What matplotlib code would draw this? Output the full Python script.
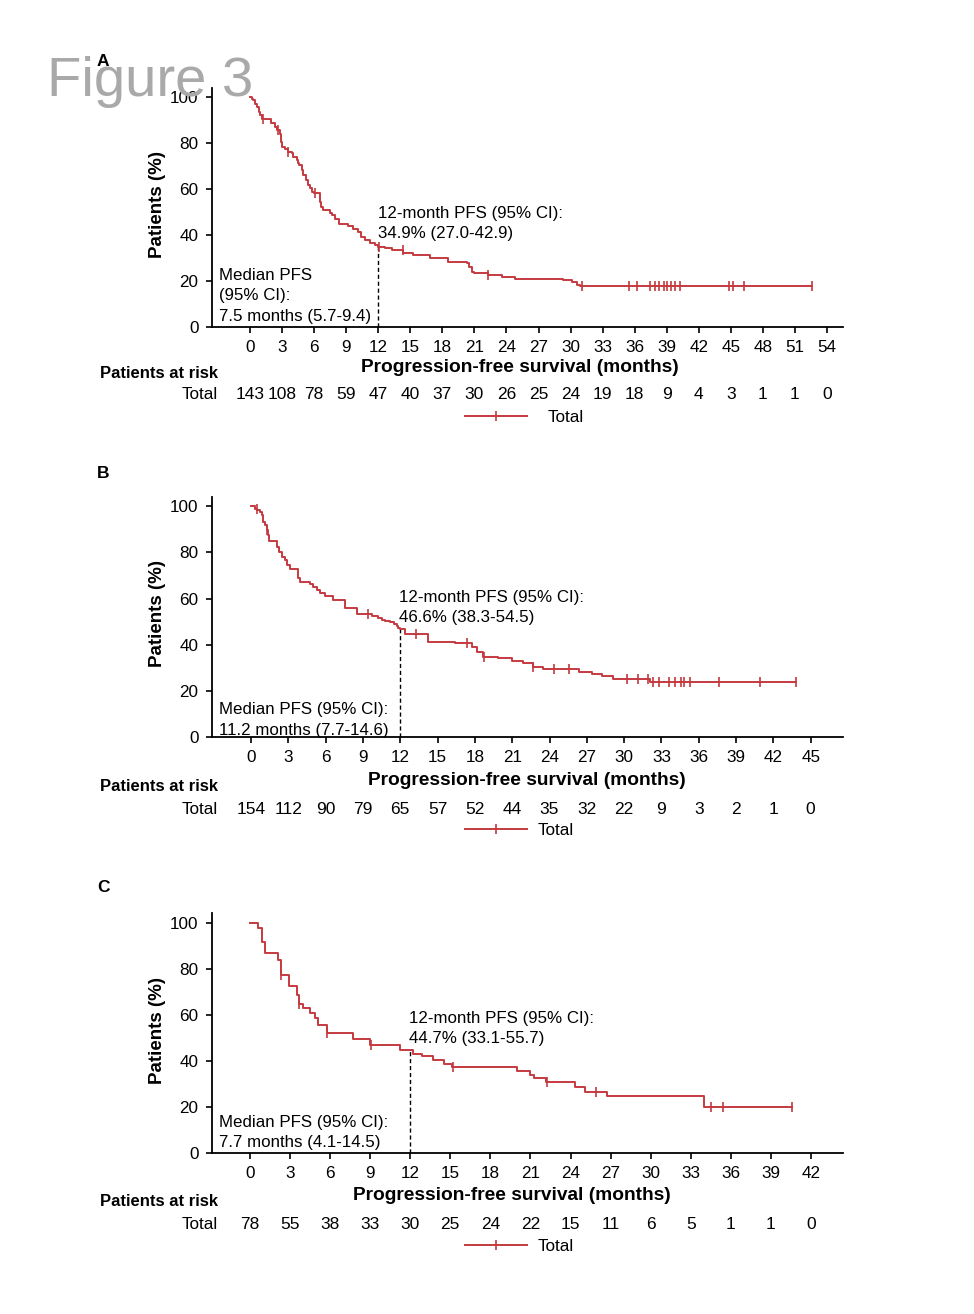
import numpy as np
import matplotlib
matplotlib.use("Agg")
import matplotlib.pyplot as plt
from matplotlib.lines import Line2D
import matplotlib.transforms as mtrans

plt.rcParams['font.family'] = ['Liberation Sans', 'DejaVu Sans']

# ---------------- data ----------------
# Panel A
a_times = [0, 0.15, 0.3, 0.5, 0.62, 0.8, 0.95, 1.09, 2.0, 2.3, 2.55, 2.8, 2.9, 2.95, 3.3, 3.6,
           3.9, 4.06, 4.37, 4.5, 4.62, 4.84, 5.0, 5.24, 5.46, 5.6, 5.77, 6.0, 6.58, 6.65, 6.86,
           7.5, 7.64, 7.96, 8.36, 9.2, 9.67, 10.14, 10.39, 10.76, 11.23, 11.7, 11.95, 12.64,
           13.26, 14.35, 15.29, 16.85, 18.56, 20.28, 20.5, 20.74, 20.96, 22.3, 23.55, 24.8,
           29.3, 30.1, 30.57, 30.9]
a_surv = [100, 99.3, 98.6, 97.2, 95.8, 93.7, 92.3, 90.3, 88.6, 87.1, 85.7, 84.2, 80.5, 78.4, 77.6, 76.2,
          75.5, 74.1, 72.6, 71.3, 70.4, 68.3, 66.1, 63.9, 61.7, 60.3, 58.8, 58.4, 54.5, 52.3, 50.9,
          49.4, 48.7, 47.2, 44.8, 43.9, 42.5, 41.4, 39.3, 37.8, 36.7, 35.7, 34.9, 34.2,
          33.5, 32.3, 31.3, 29.9, 28.4, 27.7, 26.2, 24.1, 23.4, 22.6, 21.6, 20.9,
          20.4, 19.4, 18.2, 17.8]
a_end = 52.6
a_censor = [1.2, 2.6, 3.6, 6.1, 12.1, 14.3, 22.3, 31.1, 35.5, 36.2, 37.4, 37.9, 38.3, 38.7,
            39.0, 39.4, 39.8, 40.2, 44.8, 45.2, 46.2, 52.6]
a_xticks = list(range(0, 55, 3))
a_risk = [143, 108, 78, 59, 47, 40, 37, 30, 26, 25, 24, 19, 18, 9, 4, 3, 1, 1, 0]
a_note12 = ["12-month PFS (95% CI):", "34.9% (27.0-42.9)"]
a_median = ["Median PFS", "(95% CI):", "7.5 months (5.7-9.4)"]

# Panel B
b_times = [0, 0.32, 0.51, 0.72, 0.86, 0.99, 1.13, 1.26, 1.39, 1.47, 2.12, 2.28, 2.47, 2.73, 2.92,
           3.14, 3.8, 3.94, 4.74, 5.0, 5.28, 5.55, 5.95, 6.62, 7.56, 8.5, 9.7, 10.23, 10.5,
           10.77, 11.2, 11.5, 11.7, 11.85, 11.95, 12.38, 14.25, 16.4, 17.74, 18.14, 18.67,
           19.88, 20.95, 21.89, 22.69, 23.5, 26.4, 27.4, 28.2, 29.1, 32.1]
b_surv = [100, 99.0, 98.3, 97.5, 96.1, 93.2, 91.8, 89.6, 87.4, 85.0, 82.4, 80.2, 78.1, 76.6, 74.5,
          73.0, 68.7, 67.2, 66.5, 65.1, 63.6, 62.2, 61.0, 59.3, 56.1, 53.2, 52.4, 51.4, 50.6,
          50.2, 49.9, 48.9, 48.1, 47.1, 46.6, 44.6, 41.3, 40.6, 39.1, 36.9, 34.8,
          34.1, 33.0, 31.9, 30.2, 29.3, 28.3, 27.2, 26.4, 25.2, 23.8]
b_end = 43.8
b_censor = [0.5, 1.3, 9.4, 13.3, 17.4, 18.7, 22.7, 24.4, 25.6, 30.2, 31.1, 31.9, 32.3, 32.8,
            33.6, 34.1, 34.6, 34.8, 35.3, 37.6, 40.9, 43.8]
b_xticks = list(range(0, 46, 3))
b_risk = [154, 112, 90, 79, 65, 57, 52, 44, 35, 32, 22, 9, 3, 2, 1, 0]
b_note12 = ["12-month PFS (95% CI):", "46.6% (38.3-54.5)"]
b_median = ["Median PFS (95% CI):", "11.2 months (7.7-14.6)"]

# Panel C
c_times = [0, 0.62, 0.92, 1.12, 2.1, 2.3, 2.94, 3.5, 3.67, 4.0, 4.5, 4.87, 5.1, 5.74, 7.7, 9.0,
           11.2, 12.2, 12.85, 13.7, 14.5, 15.1, 20.0, 21.0, 21.3, 22.2, 24.3, 25.1, 26.7, 34.0]
c_surv = [100, 97.7, 91.6, 86.8, 83.9, 77.4, 72.3, 68.7, 64.7, 62.9, 60.7, 58.6, 55.4, 52.0, 49.4, 46.7,
          44.7, 43.0, 41.9, 40.4, 38.7, 37.3, 35.8, 33.9, 32.5, 31.0, 28.8, 26.7, 24.9, 19.9]
c_end = 40.6
c_censor = [2.35, 3.7, 5.8, 9.1, 15.2, 22.25, 25.9, 34.5, 35.4, 40.6]
c_xticks = list(range(0, 43, 3))
c_risk = [78, 55, 38, 33, 30, 25, 24, 22, 15, 11, 6, 5, 1, 1, 0]
c_note12 = ["12-month PFS (95% CI):", "44.7% (33.1-55.7)"]
c_median = ["Median PFS (95% CI):", "7.7 months (4.1-14.5)"]

y_ticks = [0, 20, 40, 60, 80, 100]

# ---------------- layout ----------------
W, H = 974, 1314
RED = '#c43a3f'
fig = plt.figure(figsize=(W / 100, H / 100), dpi=100)


def fx(px):
    return px / W


def fy(py):
    return 1 - py / H


panels = [
    dict(letter='A', letter_y=62, top=88, bot=327, xlim=(-3.56, 55.5), ylim=(0, 104),
         times=a_times, surv=a_surv, end=a_end, cens=a_censor, xticks=a_xticks, risk=a_risk,
         note12=a_note12, note_x=378, note_y=[218, 238], median=a_median, med_y=[280, 300, 321],
         ylab_y=204, xlab_x=520, xlab_y=372, par_y=378, tot_y=399, leg_y=416, leg_tx=548),
    dict(letter='B', letter_y=473, top=497, bot=737, xlim=(-3.14, 47.6), ylim=(0, 104),
         times=b_times, surv=b_surv, end=b_end, cens=b_censor, xticks=b_xticks, risk=b_risk,
         note12=b_note12, note_x=399, note_y=[602, 622], median=b_median, med_y=[714, 735],
         ylab_y=614, xlab_x=527, xlab_y=785, par_y=791, tot_y=814, leg_y=829, leg_tx=538),
    dict(letter='C', letter_y=888, top=913, bot=1153, xlim=(-2.84, 44.4), ylim=(0, 104.2),
         times=c_times, surv=c_surv, end=c_end, cens=c_censor, xticks=c_xticks, risk=c_risk,
         note12=c_note12, note_x=409, note_y=[1023, 1043], median=c_median, med_y=[1127, 1147],
         ylab_y=1030, xlab_x=512, xlab_y=1200, par_y=1206, tot_y=1229, leg_y=1245, leg_tx=538),
]

for p in panels:
    ax = fig.add_axes([fx(212), fy(p['bot']), fx(843) - fx(212), (p['bot'] - p['top']) / H])
    t = np.array(p['times'] + [p['end']], dtype=float)
    s = np.array(p['surv'] + [p['surv'][-1]], dtype=float)
    ax.step(t, s, where='post', color=RED, lw=1.4, zorder=3)
    c = np.array(p['cens'], dtype=float)
    idx = np.searchsorted(t, c, side='right') - 1
    ax.plot(c, s[idx], ls='none', marker='|', ms=6.5, mew=1.2, color=RED, zorder=4)
    # 12-month dashed line
    s12 = s[np.searchsorted(t, 12.0, side='right') - 1]
    ax.plot([12, 12], [0, s12], ls=(0, (3, 2)), color='black', lw=1.0, zorder=2)

    ax.set_xlim(*p['xlim'])
    ax.set_ylim(*p['ylim'])
    ax.set_xticks(p['xticks'])
    ax.set_yticks(y_ticks)
    for sp in ['top', 'right']:
        ax.spines[sp].set_visible(False)
    for sp in ['left', 'bottom']:
        ax.spines[sp].set_linewidth(1.3)
    ax.tick_params(axis='x', direction='out', length=4, width=1.2, pad=5.5, labelsize=12.3)
    ax.tick_params(axis='y', direction='out', length=4.3, width=1.2, pad=5.5, labelsize=12.3)

    # Panel letter
    fig.text(fx(103), fy(p['letter_y']), p['letter'], ha='center', va='center',
             fontsize=12.5, fontweight='bold')
    # y-label
    fig.text(fx(158), fy(p['ylab_y']), 'Patients (%)', rotation=90, ha='center', va='center',
             fontsize=13.5, fontweight='bold')
    # x-label
    fig.text(fx(p['xlab_x']), fy(p['xlab_y']), 'Progression-free survival (months)', ha='center',
             va='baseline', fontsize=13.8, fontweight='bold')
    # annotations
    for line, yy in zip(p['note12'], p['note_y']):
        fig.text(fx(p['note_x']), fy(yy), line, ha='left', va='baseline', fontsize=12.2)
    for line, yy in zip(p['median'], p['med_y']):
        fig.text(fx(219), fy(yy), line, ha='left', va='baseline', fontsize=12.2)
    # risk table
    fig.text(fx(218), fy(p['par_y']), 'Patients at risk', ha='right', va='baseline',
             fontsize=12, fontweight='bold')
    fig.text(fx(218), fy(p['tot_y']), 'Total', ha='right', va='baseline', fontsize=12.3)
    trans = mtrans.blended_transform_factory(ax.transData, fig.transFigure)
    for xv, n in zip(p['xticks'], p['risk']):
        fig.text(xv, fy(p['tot_y']), str(n), transform=trans, ha='center', va='baseline',
                 fontsize=12.5)
    # legend
    fig.add_artist(Line2D([fx(465), fx(527)], [fy(p['leg_y'])] * 2, color=RED, lw=1.4))
    fig.add_artist(Line2D([fx(496)], [fy(p['leg_y'])], color=RED, marker='|', ms=6.5, mew=1.2))
    fig.text(fx(p['leg_tx']), fy(p['leg_y'] + 6), 'Total', ha='left', va='baseline', fontsize=12.3)

# Figure title (drawn on top)
fig.text(fx(47), fy(96), 'Figure 3', ha='left', va='baseline', fontsize=40.5, color='#a9a9a9',
         zorder=10)

fig.savefig('out.png', dpi=100)
